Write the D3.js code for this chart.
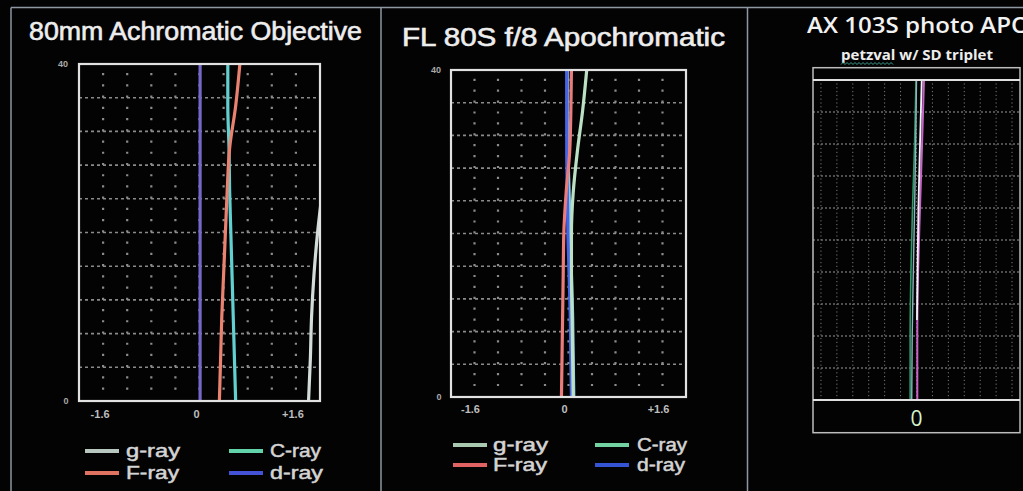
<!DOCTYPE html>
<html><head><meta charset="utf-8">
<script src="https://cdn.jsdelivr.net/npm/d3@7"></script>
<style>body{margin:0;background:#000;}svg{display:block}</style>
</head><body>
<svg id="c" width="1023" height="491"></svg>
<script>
// ---------------- data ----------------
const panelTitles = ["80mm Achromatic Objective", "FL 80S f/8 Apochromatic"];
const rayNames = ["g-ray", "F-ray", "C-ray", "d-ray"];
const xTickValues = [-1.6, 0, 1.6];
const xTickLabels = ["-1.6", "0", "+1.6"];
const yTickValues = [40, 0];
const yTickLabels = ["40", "0"];
const fieldLevels = [0, 5, 10, 15, 20, 25, 30, 35, 40];
// 80mm achromat (longitudinal focus shift per ray)
const achroG = [1.81, 1.84, 1.86, 1.9, 1.96, 2.04, 2.12, 2.2, 2.28];
const achroF = [0.33, 0.35, 0.37, 0.4, 0.43, 0.46, 0.5, 0.6, 0.67];
const achroC = [0.6, 0.58, 0.56, 0.54, 0.52, 0.5, 0.49, 0.47, 0.47];
const achroD = [0.01, 0.01, 0.01, 0.01, 0.01, 0.01, 0.01, 0.01, 0.01];
// FL 80S apochromat
const apoG = [0.08, 0.07, 0.06, 0.05, 0.05, 0.08, 0.15, 0.24, 0.31];
const apoF = [-0.12, -0.11, -0.1, -0.09, -0.08, -0.04, 0.02, 0.04, 0.05];
const apoC = [0.09, 0.08, 0.07, 0.05, 0.03, 0.01, -0.01, -0.02, -0.02];
const apoD = [0.05, 0.04, 0.03, 0.01, -0.01, -0.02, -0.03, -0.03, -0.03];
// AX 103S
const ax103Title = "AX 103S photo APO";
const ax103Subtitle = "petzval w/ SD triplet";
const ax103TickLabel = "0";
const ax103Levels = [0, 2, 4, 6, 8, 10];
const ax103Green = [-0.4, -0.4, -0.35, -0.25, -0.12, -0.03];
const ax103Teal = [-0.3, -0.27, -0.2, -0.12, -0.05, 0.0];
const ax103Magenta = [0.05, 0.05, 0.1, 0.22, 0.35, 0.47];
const ax103WhiteLevels = [2.5, 4, 6, 8, 10];
const ax103White = [0.03, 0.06, 0.12, 0.22, 0.33];

// ---------------- drawing ----------------
const svg = d3.select("#c");
svg.append("rect").attr("width", 1023).attr("height", 491).attr("fill", "#030303");

// separators
const sepColor = "#8e98a2";
svg.append("line").attr("x1", 11).attr("x2", 1023).attr("y1", 7.5).attr("y2", 7.5).attr("stroke", sepColor).attr("stroke-width", 1.5);
[11, 381, 747.5].forEach(x => svg.append("line").attr("x1", x).attr("x2", x).attr("y1", 7.5).attr("y2", 491).attr("stroke", sepColor).attr("stroke-width", 1.5));

const panels = [
  { title: panelTitles[0], tx: 195.5, ty: 40, tlen: 333, x0: 79, x1: 320, y0: 401, y1: 64,
    series: [achroD, achroC, achroF, achroG], order: ["d-ray", "C-ray", "F-ray", "g-ray"],
    lineColors: { "g-ray": "#d2dcd8", "F-ray": "#ea8270", "C-ray": "#62d0d0", "d-ray": "#7468c8" },
    legColors: { "g-ray": "#b8c8c0", "F-ray": "#e07262", "C-ray": "#62d2aa", "d-ray": "#4452d8" },
    tickY: 418, tickDx: -3, ylx: 63, leg: { sx: [85, 229], sw: 34, tx: [126, 270], ry: [451, 473], tl: [54, 53, 51, 53] } },
  { title: panelTitles[1], tx: 563.5, ty: 46, tlen: 323, x0: 451, x1: 686, y0: 397, y1: 70,
    series: [apoC, apoD, apoF, apoG], order: ["C-ray", "d-ray", "F-ray", "g-ray"],
    lineColors: { "g-ray": "#bce0c4", "F-ray": "#ea7c7c", "C-ray": "#80cbe8", "d-ray": "#4664e4" },
    legColors: { "g-ray": "#a8c8b0", "F-ray": "#e06262", "C-ray": "#72d2a2", "d-ray": "#3454d4" },
    tickY: 413, tickDx: -4, ylx: 436, leg: { sx: [453, 595], sw: 34, tx: [493, 637], ry: [445, 465], tl: [55, 54, 50, 48] } }
];

panels.forEach((p, pi) => {
  const g = svg.append("g");
  const x = d3.scaleLinear().domain([-2, 2]).range([p.x0, p.x1]);
  const y = d3.scaleLinear().domain([0, 40]).range([p.y0, p.y1]);

  g.append("text").text(p.title).attr("x", p.tx).attr("y", p.ty)
    .attr("text-anchor", "middle").attr("font-family", "Liberation Sans, Arial, sans-serif")
    .attr("font-size", 25).attr("fill", "#ededed").attr("stroke", "#ededed").attr("stroke-width", 0.6)
    .attr("textLength", p.tlen).attr("lengthAdjust", "spacingAndGlyphs");

  // grid
  const rowH = (p.y0 - p.y1) / 10;
  const grid = g.append("g").attr("stroke", "#d4d4d4").attr("opacity", 0.65);
  d3.range(-1.6, 1.61, 0.4).forEach(v => {
    grid.append("line").attr("x1", x(v)).attr("x2", x(v)).attr("y1", y(0) - rowH / 3).attr("y2", y(40))
      .attr("stroke-width", 2.2).attr("stroke-dasharray", `2.2,${rowH / 3 - 2.2}`);
  });
  d3.range(4, 39, 4).forEach(v => {
    grid.append("line").attr("x1", x(-2)).attr("x2", x(2)).attr("y1", y(v)).attr("y2", y(v))
      .attr("stroke-width", 1.6).attr("stroke-dasharray", "3,3");
  });

  // clip
  const cid = "clip" + pi;
  svg.append("defs").append("clipPath").attr("id", cid).append("rect")
    .attr("x", p.x0).attr("y", p.y1).attr("width", p.x1 - p.x0).attr("height", p.y0 - p.y1);

  const line = d3.line().x(d => x(d[0])).y(d => y(d[1])).curve(d3.curveMonotoneY);
  const lg = g.append("g").attr("clip-path", `url(#${cid})`);
  p.series.forEach((s, i) => {
    const pts = s.map((v, k) => [v, fieldLevels[k]]);
    lg.append("path").attr("d", line(pts)).attr("fill", "none")
      .attr("stroke", p.lineColors[p.order[i]]).attr("stroke-width", 3.2);
  });

  // frame
  g.append("rect").attr("x", p.x0).attr("y", p.y1).attr("width", p.x1 - p.x0).attr("height", p.y0 - p.y1)
    .attr("fill", "none").attr("stroke", "#e2e2e2").attr("stroke-width", 2.2);

  // ticks
  xTickValues.forEach((v, i) => {
    g.append("text").text(xTickLabels[i]).attr("x", x(v) + p.tickDx).attr("y", p.tickY)
      .attr("text-anchor", "middle").attr("font-family", "Liberation Sans, Arial, sans-serif")
      .attr("font-weight", "bold").attr("font-size", 11).attr("fill", "#bdbdbd");
  });
  yTickValues.forEach((v, i) => {
    g.append("text").text(yTickLabels[i]).attr("x", p.ylx + (v === 0 ? 3 : 0)).attr("y", y(v) + 3)
      .attr("text-anchor", "middle").attr("font-family", "Liberation Sans, Arial, sans-serif")
      .attr("font-weight", "bold").attr("font-size", 9).attr("fill", "#a8a8a8");
  });

  // legend: g-ray (col0,row0), C-ray (col1,row0), F-ray (col0,row1), d-ray (col1,row1)
  const L = p.leg;
  const slots = { "g-ray": [0, 0], "C-ray": [1, 0], "F-ray": [0, 1], "d-ray": [1, 1] };
  rayNames.forEach((name, i) => {
    const [c, r] = slots[name];
    g.append("line").attr("x1", L.sx[c]).attr("x2", L.sx[c] + L.sw).attr("y1", L.ry[r]).attr("y2", L.ry[r])
      .attr("stroke", p.legColors[name]).attr("stroke-width", 4);
    g.append("text").text(name).attr("x", L.tx[c]).attr("y", L.ry[r] + 6)
      .attr("font-family", "Liberation Sans, Arial, sans-serif").attr("font-size", 18)
      .attr("fill", "#d4d4d4").attr("stroke", "#d4d4d4").attr("stroke-width", 0.5)
      .attr("textLength", L.tl[i]).attr("lengthAdjust", "spacingAndGlyphs");
  });
});

// ---------------- panel 3 ----------------
const g3 = svg.append("g");
const x3 = d3.scaleLinear().domain([-6.5, 6.5]).range([813, 1020]);
const y3 = d3.scaleLinear().domain([0, 10]).range([400, 80]);

g3.append("text").text(ax103Title).attr("x", 807).attr("y", 33)
  .attr("font-family", "Open Sans, Noto Sans, sans-serif").attr("font-weight", 600).attr("font-size", 21).attr("fill", "#f2f2f2")
  .attr("textLength", 223).attr("lengthAdjust", "spacingAndGlyphs");
g3.append("text").text(ax103Subtitle).attr("x", 841).attr("y", 60)
  .attr("font-family", "Open Sans, Noto Sans, sans-serif").attr("font-weight", "bold").attr("font-size", 14)
  .attr("fill", "#ededed").attr("textLength", 152).attr("lengthAdjust", "spacingAndGlyphs");
// spell-check squiggle under "petzval"
const sq = d3.range(0, 27).map(i => [841 + i * 2, i % 2 ? 62.5 : 64.5]);
g3.append("path").attr("d", d3.line()(sq)).attr("fill", "none").attr("stroke", "#3aa090").attr("stroke-width", 1);

// grid
const grid3 = g3.append("g").attr("stroke", "#7a7a7a").attr("stroke-width", 1);
d3.range(-6, 7, 1).forEach(v => grid3.append("line").attr("x1", x3(v)).attr("x2", x3(v))
  .attr("y1", y3(0)).attr("y2", y3(10)).attr("stroke-dasharray", "1.2,2.6"));
d3.range(1, 10, 1).forEach(v => grid3.append("line").attr("x1", x3(-6.5)).attr("x2", x3(6.5))
  .attr("y1", y3(v)).attr("y2", y3(v)).attr("stroke-dasharray", "2,2").attr("stroke", "#9a9a9a"));

const line3 = d3.line().x(d => x3(d[0])).y(d => y3(d[1])).curve(d3.curveMonotoneY);
const ax103Series = [
  { v: ax103Green, lv: ax103Levels, c: "#2e9a6a", w: 1.6 },
  { v: ax103Teal, lv: ax103Levels, c: "#8fb6c0", w: 1.4 },
  { v: ax103Magenta, lv: ax103Levels, c: "#c864c8", w: 2 },
  { v: ax103White, lv: ax103WhiteLevels, c: "#f2f2fa", w: 1.8 }
];
ax103Series.forEach(s => {
  g3.append("path").attr("d", line3(s.v.map((v, k) => [v, s.lv[k]]))).attr("fill", "none")
    .attr("stroke", s.c).attr("stroke-width", s.w);
});

// frame
g3.append("rect").attr("x", 813).attr("y", 67.7).attr("width", 207).attr("height", 365)
  .attr("fill", "none").attr("stroke", "#bdbdbd").attr("stroke-width", 1.5);
[80, 400].forEach(yy => g3.append("line").attr("x1", 813).attr("x2", 1020).attr("y1", yy).attr("y2", yy)
  .attr("stroke", "#e0e0e0").attr("stroke-width", 2));
g3.append("text").text(ax103TickLabel).attr("x", x3(0)).attr("y", 426)
  .attr("text-anchor", "middle").attr("font-family", "Open Sans, Noto Sans, sans-serif")
  .attr("font-size", 21).attr("fill", "#d6f4cc");
</script>
</body></html>
